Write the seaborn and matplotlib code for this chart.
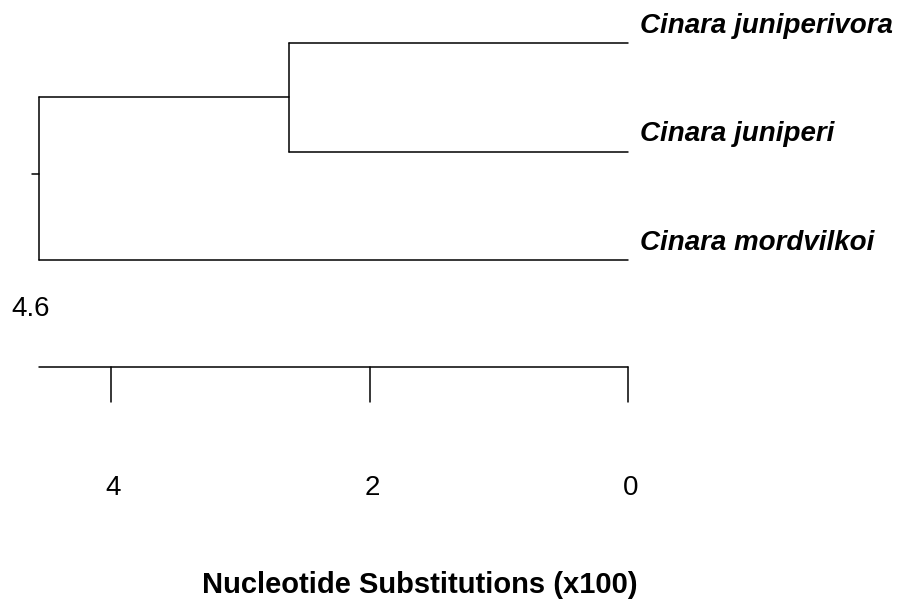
import numpy as np
import pandas as pd
import matplotlib
matplotlib.use("Agg")
import matplotlib.pyplot as plt
import seaborn as sns

# ---- data ----
taxa = ["Cinara juniperivora", "Cinara juniperi", "Cinara mordvilkoi"]
clade_height = 2.62      # juniperivora + juniperi join
root_height = 4.56       # root (labelled 4.6)
scale_ticks = [4, 2, 0]
axis_title = "Nucleotide Substitutions (x100)"

sns.set_theme(style="white")
plt.rcParams["font.family"] = ["Liberation Sans", "DejaVu Sans"]

fig = plt.figure(figsize=(8.97, 6.05), dpi=100)
ax = fig.add_axes([0, 0, 1, 1])

# leaf positions (index units)
leaf_y = {t: i for i, t in enumerate(taxa)}
clade_y = (leaf_y[taxa[0]] + leaf_y[taxa[1]]) / 2
root_y = (clade_y + leaf_y[taxa[2]]) / 2

segs = []
def seg(x0, y0, x1, y1):
    k = len(segs)
    segs.append({"x": x0, "y": y0, "seg": k})
    segs.append({"x": x1, "y": y1, "seg": k})

# tree branches
seg(clade_height, leaf_y[taxa[0]], 0, leaf_y[taxa[0]])
seg(clade_height, leaf_y[taxa[1]], 0, leaf_y[taxa[1]])
seg(clade_height, leaf_y[taxa[0]], clade_height, leaf_y[taxa[1]])
seg(root_height, clade_y, clade_height, clade_y)
seg(root_height, leaf_y[taxa[2]], 0, leaf_y[taxa[2]])
seg(root_height, clade_y, root_height, leaf_y[taxa[2]])
seg(root_height + 0.055, root_y - 0.04, root_height, root_y - 0.04)

# scale bar
bar_y = 2.986
seg(root_height, bar_y, 0, bar_y)
for t in scale_ticks:
    seg(t, bar_y, t, bar_y + 0.323)

df = pd.DataFrame(segs)
sns.lineplot(data=df, x="x", y="y", units="seg", estimator=None, sort=False,
             color="black", linewidth=1.1, ax=ax, legend=False)

# labels
for t in taxa:
    ax.text(-0.093, leaf_y[t] - 0.095, t, fontsize=20, fontweight="bold",
            fontstyle="italic", ha="left", va="baseline", color="black")

ax.text(4.62, 2.516, f"{root_height:.1f}", fontsize=20, ha="center",
        va="baseline", color="black")

for t in scale_ticks:
    ax.text(t - 0.02, 4.166, str(t), fontsize=20, ha="center", va="baseline",
            color="black")

ax.text(1.609, 5.069, axis_title, fontsize=21, fontweight="bold",
        ha="center", va="baseline", color="black")

ax.set_xlim(628 / 129.25, -(897 - 628) / 129.25)
ax.set_ylim((605 - 43) / 108.5, -43 / 108.5)
ax.axis("off")

fig.savefig("out.png", dpi=100, facecolor="white")
